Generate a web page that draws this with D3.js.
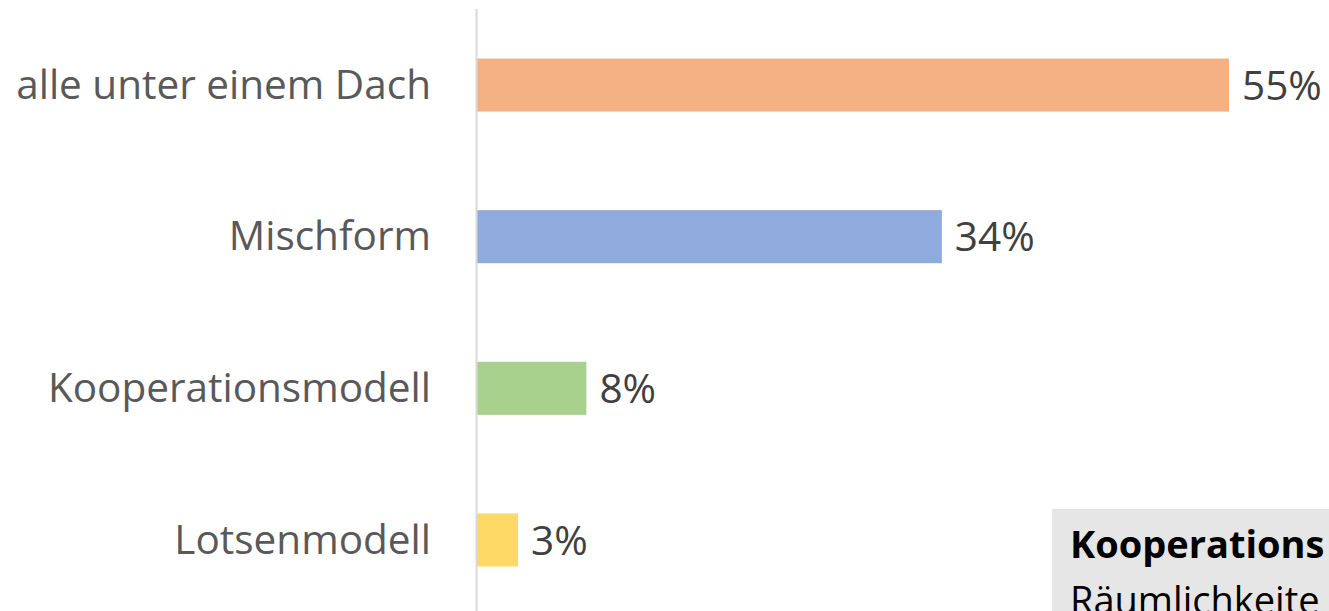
<!DOCTYPE html>
<html><head><meta charset="utf-8">
<script src="https://cdn.jsdelivr.net/npm/d3@7"></script>
<style>html,body{margin:0;padding:0;background:#fff;overflow:hidden}</style>
</head><body>
<svg id="chart" width="1329" height="611"></svg>
<script>
const categories = ["alle unter einem Dach", "Mischform", "Kooperationsmodell", "Lotsenmodell"];
const values = [55, 34, 8, 3];
const colors = ["#F4B183", "#8FAADC", "#A9D18E", "#FFD966"];
const noteTitle = "Kooperations";
const noteText = "Räumlichkeite";

const svg = d3.select("#chart");
const font = "'Open Sans', 'Noto Sans', sans-serif";
const x0 = 477;
const x = d3.scaleLinear().domain([0, 55]).range([x0, 1229]);
const y = d3.scaleBand().domain(categories).range([10, 615]).paddingInner(0.65).paddingOuter(0.32);

// bars
svg.selectAll("rect.bar").data(values).join("rect")
  .attr("class", "bar")
  .attr("x", x(0))
  .attr("y", (d, i) => y(categories[i]))
  .attr("width", d => x(d) - x(0))
  .attr("height", y.bandwidth())
  .attr("fill", (d, i) => colors[i]);

// axis line
svg.append("line").attr("x1", x0 - 0.5).attr("x2", x0 - 0.5).attr("y1", 9).attr("y2", 611)
  .attr("stroke", "#d9d9d9").attr("stroke-width", 2);

// category labels
const yAxis = d3.axisLeft(y).tickSize(0).tickPadding(46);
const g = svg.append("g").attr("transform", `translate(${x0},0)`).call(yAxis);
g.select(".domain").remove();
g.selectAll("text").attr("font-family", font).attr("font-size", 40.5).attr("fill", "#595959")
  .attr("dy", "0.34em");

// value labels
svg.selectAll("text.val").data(values).join("text")
  .attr("class", "val")
  .attr("x", d => x(d) + 13)
  .attr("y", (d, i) => y(categories[i]) + y.bandwidth() / 2)
  .attr("dy", "0.36em")
  .attr("font-family", font).attr("font-size", 40.5).attr("fill", "#404040")
  .text(d => d + "%");

// note box
svg.append("rect").attr("x", 1052).attr("y", 509).attr("width", 300).attr("height", 120).attr("fill", "#e6e6e6");
svg.append("text").attr("x", 1070).attr("y", 558).attr("font-family", font).attr("font-weight", "bold")
  .attr("font-size", 38).attr("fill", "#000").text(noteTitle);
svg.append("text").attr("x", 1070).attr("y", 614).attr("font-family", font)
  .attr("font-size", 38).attr("fill", "#000").text(noteText);
</script>
</body></html>
